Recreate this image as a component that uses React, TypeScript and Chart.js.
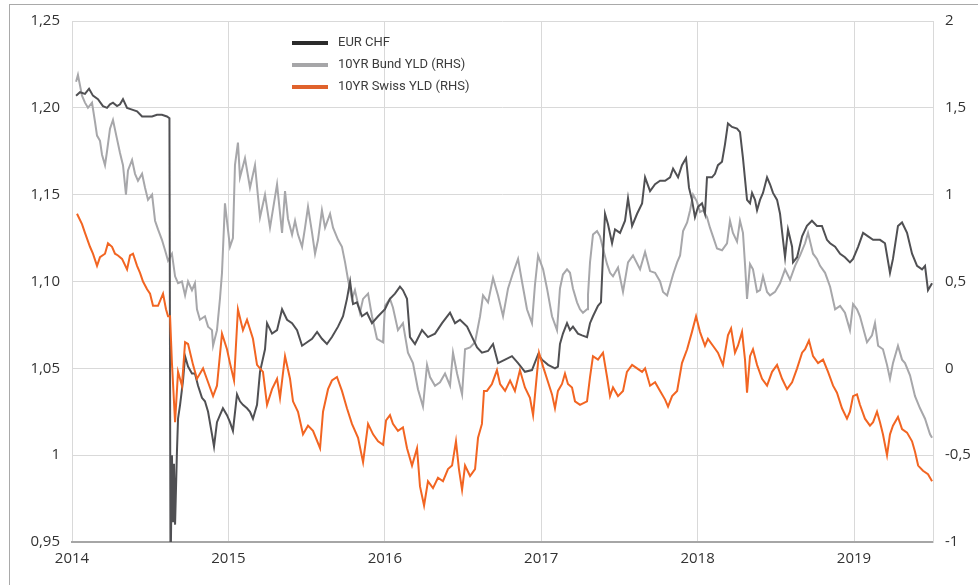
import React, { useEffect, useRef } from "react";
import { Chart, registerables } from "chart.js";

Chart.register(...registerables);

// ---- Data (decimal years on x) ----
const eurYears = [2014.026, 2014.051, 2014.083, 2014.109, 2014.134, 2014.166, 2014.198, 2014.224, 2014.243, 2014.262,
  2014.288, 2014.307, 2014.326, 2014.352, 2014.384, 2014.416, 2014.448, 2014.480, 2014.512, 2014.543,
  2014.575, 2014.607, 2014.623, 2014.630, 2014.639, 2014.646, 2014.652, 2014.659, 2014.671, 2014.678,
  2014.691, 2014.710, 2014.723, 2014.742, 2014.767, 2014.786, 2014.806, 2014.831, 2014.850, 2014.870,
  2014.895, 2014.908, 2014.927, 2014.946, 2014.965, 2014.991, 2015.010, 2015.029, 2015.055, 2015.074,
  2015.093, 2015.119, 2015.138, 2015.157, 2015.183, 2015.202, 2015.234, 2015.247, 2015.279, 2015.311,
  2015.343, 2015.375, 2015.407, 2015.439, 2015.471, 2015.503, 2015.535, 2015.567, 2015.598, 2015.630,
  2015.662, 2015.701, 2015.733, 2015.758, 2015.778, 2015.797, 2015.822, 2015.854, 2015.886, 2015.918,
  2015.957, 2016.001, 2016.033, 2016.065, 2016.097, 2016.116, 2016.142, 2016.161, 2016.193, 2016.238,
  2016.276, 2016.321, 2016.366, 2016.417, 2016.449, 2016.481, 2016.526, 2016.558, 2016.590, 2016.621,
  2016.660, 2016.692, 2016.724, 2016.769, 2016.813, 2016.852, 2016.896, 2016.941, 2016.980, 2017.005,
  2017.044, 2017.088, 2017.107, 2017.120, 2017.139, 2017.165, 2017.184, 2017.203, 2017.235, 2017.261,
  2017.293, 2017.312, 2017.331, 2017.363, 2017.382, 2017.395, 2017.408, 2017.427, 2017.453, 2017.472,
  2017.504, 2017.536, 2017.555, 2017.581, 2017.613, 2017.645, 2017.664, 2017.696, 2017.728, 2017.760,
  2017.792, 2017.824, 2017.843, 2017.875, 2017.900, 2017.926, 2017.945, 2017.964, 2017.983, 2018.003,
  2018.028, 2018.047, 2018.060, 2018.092, 2018.111, 2018.130, 2018.156, 2018.175, 2018.194, 2018.220,
  2018.252, 2018.271, 2018.290, 2018.316, 2018.335, 2018.348, 2018.367, 2018.380, 2018.399, 2018.418,
  2018.444, 2018.463, 2018.482, 2018.508, 2018.527, 2018.546, 2018.559, 2018.578, 2018.604, 2018.610,
  2018.636, 2018.668, 2018.699, 2018.731, 2018.763, 2018.795, 2018.827, 2018.847, 2018.879, 2018.911,
  2018.942, 2018.974, 2018.994, 2019.026, 2019.058, 2019.090, 2019.122, 2019.166, 2019.198, 2019.230,
  2019.249, 2019.281, 2019.307, 2019.339, 2019.371, 2019.403, 2019.435, 2019.454, 2019.473, 2019.499];

const eurValues = [1.207, 1.209, 1.208, 1.211, 1.207, 1.205, 1.201, 1.200, 1.202, 1.203,
  1.201, 1.202, 1.205, 1.200, 1.199, 1.198, 1.195, 1.195, 1.195, 1.196,
  1.196, 1.195, 1.194, 0.930, 1.000, 0.962, 0.995, 0.960, 1.002, 1.021,
  1.029, 1.043, 1.057, 1.051, 1.047, 1.047, 1.040, 1.033, 1.031, 1.025,
  1.012, 1.005, 1.019, 1.023, 1.027, 1.023, 1.019, 1.014, 1.035, 1.031,
  1.029, 1.027, 1.025, 1.021, 1.029, 1.048, 1.061, 1.076, 1.070, 1.072,
  1.084, 1.078, 1.076, 1.072, 1.063, 1.065, 1.067, 1.071, 1.067, 1.064,
  1.068, 1.074, 1.080, 1.090, 1.100, 1.087, 1.088, 1.080, 1.082, 1.076,
  1.080, 1.084, 1.090, 1.093, 1.097, 1.095, 1.090, 1.068, 1.064, 1.072,
  1.068, 1.070, 1.076, 1.082, 1.076, 1.078, 1.074, 1.068, 1.062, 1.059,
  1.060, 1.064, 1.053, 1.055, 1.057, 1.053, 1.048, 1.049, 1.058, 1.055,
  1.052, 1.050, 1.051, 1.064, 1.070, 1.076, 1.072, 1.074, 1.070, 1.069,
  1.068, 1.076, 1.080, 1.086, 1.088, 1.115, 1.139, 1.133, 1.122, 1.130,
  1.128, 1.135, 1.148, 1.132, 1.139, 1.145, 1.160, 1.152, 1.156, 1.158,
  1.158, 1.160, 1.165, 1.160, 1.167, 1.171, 1.154, 1.147, 1.137, 1.143,
  1.145, 1.139, 1.160, 1.160, 1.162, 1.167, 1.169, 1.179, 1.191, 1.189,
  1.188, 1.186, 1.171, 1.147, 1.145, 1.151, 1.147, 1.141, 1.147, 1.151,
  1.160, 1.156, 1.151, 1.147, 1.139, 1.124, 1.114, 1.130, 1.120, 1.111,
  1.114, 1.126, 1.132, 1.135, 1.132, 1.132, 1.124, 1.122, 1.120, 1.116,
  1.114, 1.111, 1.113, 1.120, 1.128, 1.126, 1.124, 1.124, 1.122, 1.105,
  1.113, 1.132, 1.134, 1.128, 1.116, 1.109, 1.107, 1.109, 1.095, 1.099];

const bundYears = [2014.026, 2014.038, 2014.064, 2014.083, 2014.102, 2014.128, 2014.147, 2014.160, 2014.179, 2014.192,
  2014.211, 2014.224, 2014.243, 2014.262, 2014.288, 2014.307, 2014.326, 2014.345, 2014.358, 2014.384,
  2014.403, 2014.422, 2014.448, 2014.467, 2014.486, 2014.512, 2014.531, 2014.550, 2014.575, 2014.595,
  2014.614, 2014.639, 2014.659, 2014.678, 2014.703, 2014.723, 2014.742, 2014.767, 2014.786, 2014.799,
  2014.818, 2014.850, 2014.870, 2014.895, 2014.902, 2014.927, 2014.946, 2014.959, 2014.978, 2014.997,
  2015.010, 2015.029, 2015.042, 2015.061, 2015.074, 2015.106, 2015.138, 2015.170, 2015.202, 2015.234,
  2015.266, 2015.311, 2015.343, 2015.362, 2015.381, 2015.407, 2015.426, 2015.445, 2015.471, 2015.490,
  2015.509, 2015.535, 2015.554, 2015.573, 2015.598, 2015.618, 2015.650, 2015.669, 2015.701, 2015.726,
  2015.746, 2015.765, 2015.790, 2015.809, 2015.841, 2015.861, 2015.893, 2015.918, 2015.950, 2015.989,
  2016.001, 2016.033, 2016.052, 2016.084, 2016.116, 2016.148, 2016.180, 2016.212, 2016.244, 2016.270,
  2016.289, 2016.321, 2016.353, 2016.385, 2016.417, 2016.436, 2016.462, 2016.494, 2016.513, 2016.545,
  2016.577, 2016.609, 2016.628, 2016.660, 2016.692, 2016.724, 2016.756, 2016.788, 2016.820, 2016.852,
  2016.877, 2016.909, 2016.941, 2016.960, 2016.980, 2017.012, 2017.037, 2017.069, 2017.101, 2017.120,
  2017.139, 2017.165, 2017.184, 2017.203, 2017.229, 2017.248, 2017.267, 2017.293, 2017.299, 2017.312,
  2017.331, 2017.357, 2017.376, 2017.395, 2017.421, 2017.440, 2017.459, 2017.491, 2017.523, 2017.555,
  2017.587, 2017.632, 2017.664, 2017.696, 2017.728, 2017.760, 2017.779, 2017.805, 2017.824, 2017.843,
  2017.869, 2017.888, 2017.907, 2017.933, 2017.952, 2017.971, 2017.996, 2018.015, 2018.035, 2018.060,
  2018.079, 2018.098, 2018.124, 2018.156, 2018.188, 2018.207, 2018.226, 2018.252, 2018.271, 2018.290,
  2018.303, 2018.316, 2018.335, 2018.354, 2018.380, 2018.399, 2018.418, 2018.444, 2018.463, 2018.495,
  2018.527, 2018.559, 2018.591, 2018.623, 2018.655, 2018.687, 2018.706, 2018.738, 2018.763, 2018.783,
  2018.815, 2018.847, 2018.879, 2018.911, 2018.942, 2018.974, 2018.994, 2019.019, 2019.038, 2019.083,
  2019.115, 2019.134, 2019.154, 2019.185, 2019.211, 2019.230, 2019.249, 2019.281, 2019.307, 2019.326,
  2019.358, 2019.390, 2019.422, 2019.454, 2019.486, 2019.499];

const bundValues = [1.65, 1.69, 1.57, 1.53, 1.50, 1.53, 1.42, 1.34, 1.31, 1.23,
  1.17, 1.25, 1.38, 1.43, 1.32, 1.24, 1.17, 1.00, 1.14, 1.20,
  1.12, 1.08, 1.12, 1.04, 0.97, 1.00, 0.85, 0.80, 0.74, 0.68,
  0.62, 0.66, 0.53, 0.49, 0.50, 0.42, 0.50, 0.45, 0.49, 0.34,
  0.28, 0.30, 0.24, 0.22, 0.13, 0.22, 0.40, 0.55, 0.95, 0.80,
  0.70, 0.75, 1.17, 1.30, 1.10, 1.21, 1.04, 1.17, 0.87, 1.00,
  0.81, 1.06, 0.78, 1.02, 0.86, 0.77, 0.85, 0.77, 0.70, 0.81,
  0.93, 0.78, 0.66, 0.74, 0.91, 0.81, 0.89, 0.81, 0.74, 0.70,
  0.61, 0.51, 0.40, 0.45, 0.32, 0.40, 0.43, 0.30, 0.17, 0.15,
  0.36, 0.40, 0.35, 0.22, 0.26, 0.09, 0.03, -0.12, -0.22, 0.02,
  -0.05, -0.10, -0.08, -0.03, -0.10, 0.09, -0.03, -0.15, 0.11, 0.12,
  0.15, 0.30, 0.42, 0.38, 0.52, 0.42, 0.30, 0.46, 0.55, 0.63,
  0.50, 0.34, 0.26, 0.48, 0.65, 0.57, 0.46, 0.30, 0.22, 0.46,
  0.54, 0.57, 0.55, 0.46, 0.38, 0.34, 0.32, 0.34, 0.42, 0.61,
  0.77, 0.79, 0.76, 0.69, 0.60, 0.55, 0.53, 0.58, 0.44, 0.61,
  0.65, 0.57, 0.67, 0.56, 0.55, 0.50, 0.44, 0.42, 0.48, 0.54,
  0.61, 0.65, 0.79, 0.84, 0.91, 1.00, 0.96, 0.90, 0.91, 0.87,
  0.81, 0.76, 0.69, 0.68, 0.72, 0.85, 0.78, 0.73, 0.85, 0.78,
  0.60, 0.40, 0.60, 0.57, 0.44, 0.45, 0.53, 0.44, 0.42, 0.44,
  0.49, 0.57, 0.51, 0.59, 0.65, 0.72, 0.78, 0.66, 0.63, 0.59,
  0.55, 0.47, 0.34, 0.36, 0.32, 0.22, 0.37, 0.34, 0.30, 0.15,
  0.19, 0.26, 0.13, 0.11, 0.02, -0.06, 0.03, 0.13, 0.05, 0.03,
  -0.04, -0.16, -0.23, -0.29, -0.38, -0.40];

const swissYears = [2014.032, 2014.064, 2014.083, 2014.115, 2014.134, 2014.160, 2014.179, 2014.211, 2014.230, 2014.256,
  2014.275, 2014.294, 2014.320, 2014.352, 2014.371, 2014.390, 2014.416, 2014.435, 2014.454, 2014.480,
  2014.499, 2014.518, 2014.550, 2014.582, 2014.601, 2014.614, 2014.627, 2014.639, 2014.659, 2014.678,
  2014.703, 2014.723, 2014.742, 2014.774, 2014.799, 2014.838, 2014.870, 2014.902, 2014.927, 2014.959,
  2014.991, 2015.010, 2015.036, 2015.061, 2015.093, 2015.119, 2015.157, 2015.183, 2015.221, 2015.247,
  2015.279, 2015.311, 2015.330, 2015.362, 2015.394, 2015.413, 2015.445, 2015.477, 2015.509, 2015.541,
  2015.586, 2015.605, 2015.637, 2015.662, 2015.694, 2015.726, 2015.758, 2015.790, 2015.829, 2015.861,
  2015.893, 2015.925, 2015.957, 2015.989, 2016.008, 2016.033, 2016.052, 2016.084, 2016.116, 2016.142,
  2016.174, 2016.206, 2016.225, 2016.251, 2016.276, 2016.308, 2016.340, 2016.372, 2016.404, 2016.430,
  2016.455, 2016.474, 2016.494, 2016.513, 2016.545, 2016.577, 2016.596, 2016.621, 2016.634, 2016.653,
  2016.685, 2016.717, 2016.737, 2016.769, 2016.801, 2016.832, 2016.864, 2016.896, 2016.928, 2016.948,
  2016.973, 2016.986, 2017.012, 2017.044, 2017.069, 2017.088, 2017.107, 2017.133, 2017.152, 2017.171,
  2017.197, 2017.216, 2017.248, 2017.293, 2017.312, 2017.331, 2017.363, 2017.395, 2017.421, 2017.440,
  2017.459, 2017.491, 2017.523, 2017.548, 2017.581, 2017.613, 2017.645, 2017.664, 2017.696, 2017.728,
  2017.760, 2017.792, 2017.811, 2017.837, 2017.869, 2017.900, 2017.933, 2017.964, 2017.990, 2018.015,
  2018.047, 2018.066, 2018.098, 2018.130, 2018.162, 2018.194, 2018.214, 2018.239, 2018.258, 2018.284,
  2018.303, 2018.316, 2018.335, 2018.354, 2018.380, 2018.412, 2018.444, 2018.476, 2018.508, 2018.540,
  2018.572, 2018.604, 2018.636, 2018.668, 2018.687, 2018.712, 2018.738, 2018.770, 2018.802, 2018.834,
  2018.866, 2018.891, 2018.923, 2018.955, 2018.974, 2018.994, 2019.019, 2019.038, 2019.070, 2019.102,
  2019.122, 2019.147, 2019.166, 2019.185, 2019.211, 2019.230, 2019.249, 2019.281, 2019.307, 2019.339,
  2019.371, 2019.390, 2019.410, 2019.441, 2019.473, 2019.499];

const swissValues = [0.89, 0.83, 0.78, 0.70, 0.66, 0.59, 0.64, 0.66, 0.72, 0.70,
  0.66, 0.65, 0.63, 0.57, 0.65, 0.66, 0.59, 0.55, 0.50, 0.455,
  0.43, 0.36, 0.36, 0.43, 0.34, 0.30, 0.30, 0.03, -0.31, -0.02,
  -0.10, 0.15, 0.14, 0.02, -0.06, 0.00, -0.08, -0.16, -0.10, 0.20,
  0.11, 0.03, -0.07, 0.34, 0.22, 0.28, 0.17, 0.02, -0.02, -0.21,
  -0.12, -0.06, -0.17, 0.07, -0.06, -0.19, -0.25, -0.38, -0.33, -0.36,
  -0.46, -0.25, -0.12, -0.07, -0.05, -0.13, -0.23, -0.32, -0.40, -0.54,
  -0.32, -0.38, -0.42, -0.44, -0.30, -0.27, -0.32, -0.36, -0.34, -0.46,
  -0.56, -0.46, -0.68, -0.79, -0.65, -0.69, -0.63, -0.65, -0.58, -0.56,
  -0.42, -0.58, -0.70, -0.56, -0.62, -0.58, -0.40, -0.32, -0.13, -0.13,
  -0.09, -0.01, -0.09, -0.13, -0.07, -0.13, -0.01, -0.11, -0.17, -0.27,
  -0.03, 0.09, 0.01, -0.08, -0.15, -0.23, -0.13, -0.09, -0.03, -0.09,
  -0.11, -0.19, -0.21, -0.19, -0.05, 0.07, 0.05, 0.09, -0.05, -0.16,
  -0.11, -0.16, -0.13, -0.02, 0.02, 0.00, -0.02, 0.00, -0.10, -0.08,
  -0.13, -0.18, -0.22, -0.16, -0.13, 0.03, 0.11, 0.21, 0.30, 0.21,
  0.13, 0.17, 0.13, 0.09, 0.02, 0.19, 0.23, 0.09, 0.13, 0.21,
  0.05, -0.14, 0.07, 0.11, 0.02, -0.06, -0.10, -0.02, 0.02, -0.06,
  -0.12, -0.08, 0.00, 0.09, 0.11, 0.16, 0.07, 0.03, 0.05, -0.02,
  -0.10, -0.14, -0.23, -0.29, -0.25, -0.16, -0.15, -0.21, -0.29, -0.33,
  -0.31, -0.25, -0.31, -0.38, -0.50, -0.38, -0.33, -0.28, -0.35, -0.37,
  -0.42, -0.48, -0.56, -0.59, -0.61, -0.65];

const seriesLabels = ["EUR CHF", "10YR Bund YLD (RHS)", "10YR Swiss YLD (RHS)"];
const lineColors = ["#505053", "#a7a7aa", "#f26522"];
const legendColors = ["#2b2b2b", "#a6a6a8", "#e0622c"];
const yearTicks = [2014, 2015, 2016, 2017, 2018, 2019];
const xEnd = 2019.505;

const toPoints = (xs: number[], ys: number[]) => xs.map((x, i) => ({ x, y: ys[i] }));

const legendPlugin = {
  id: "insideLegend",
  afterDraw(chart: any) {
    const { ctx, chartArea } = chart;
    ctx.save();
    seriesLabels.forEach((label, i) => {
      const y = chartArea.top + 22 + i * 22;
      const x0 = chartArea.left + 220;
      ctx.strokeStyle = legendColors[i];
      ctx.lineWidth = 4;
      ctx.beginPath();
      ctx.moveTo(x0, y);
      ctx.lineTo(x0 + 36, y);
      ctx.stroke();
      ctx.fillStyle = "#3c3c3c";
      ctx.font = "13px Roboto";
      ctx.textBaseline = "middle";
      ctx.textAlign = "left";
      ctx.fillText(label, x0 + 46, y);
    });
    ctx.restore();
  },
};

export default function App() {
  const ref = useRef<HTMLCanvasElement | null>(null);
  useEffect(() => {
    if (!ref.current) return;
    const tickFont = { family: "'Open Sans', sans-serif", size: 15 };
    const chart = new Chart(ref.current, {
      type: "line",
      data: {
        datasets: [
          {
            label: seriesLabels[2],
            data: toPoints(swissYears, swissValues),
            borderColor: lineColors[2],
            borderWidth: 2,
            pointRadius: 0,
            yAxisID: "y1",
            order: 0,
          },
          {
            label: seriesLabels[0],
            data: toPoints(eurYears, eurValues),
            borderColor: lineColors[0],
            borderWidth: 2,
            pointRadius: 0,
            yAxisID: "y",
            order: 1,
          },
          {
            label: seriesLabels[1],
            data: toPoints(bundYears, bundValues),
            borderColor: lineColors[1],
            borderWidth: 2,
            pointRadius: 0,
            yAxisID: "y1",
            order: 2,
          },
        ],
      },
      options: {
        animation: false,
        responsive: false,
        maintainAspectRatio: false,
        layout: { padding: { top: 17, left: 0, right: 0, bottom: 0 } },
        plugins: { legend: { display: false }, tooltip: { enabled: false } },
        scales: {
          x: {
            type: "linear",
            min: yearTicks[0],
            max: xEnd,
            afterFit: (s: any) => { s.height = 43; },
            afterBuildTicks: (s: any) => { s.ticks = yearTicks.map((v) => ({ value: v })); },
            ticks: {
              padding: 8,
              color: "#333",
              font: tickFont,
              maxRotation: 0,
              autoSkip: false,
              callback: (v: any) => String(Math.round(v)),
            },
            grid: { color: "#d9d9d9", lineWidth: 1, drawTicks: false },
            border: { color: "#a6a6a6", width: 2 },
          },
          y: {
            position: "left",
            min: 0.95,
            max: 1.25,
            afterFit: (s: any) => { s.width = 72; },
            ticks: {
              stepSize: 0.05,
              padding: 12,
              color: "#333",
              font: tickFont,
              callback: (v: any) => {
                const n = Math.round(v * 100) / 100;
                return n === 1 ? "1" : n.toFixed(2).replace(".", ",");
              },
            },
            grid: { color: "#d9d9d9", lineWidth: 1, drawTicks: false },
            border: { display: false },
          },
          y1: {
            position: "right",
            min: -1,
            max: 2,
            afterFit: (s: any) => { s.width = 45; },
            ticks: {
              stepSize: 0.5,
              padding: 12,
              color: "#333",
              font: tickFont,
              callback: (v: any) => String(Math.round(v * 10) / 10).replace(".", ","),
            },
            grid: { display: false, drawTicks: false },
            border: { display: true, color: "#d9d9d9", width: 1 },
          },
        },
      },
      plugins: [legendPlugin],
    });
    return () => chart.destroy();
  }, []);

  return (
    <div style={{ position: "absolute", left: 0, top: 0, width: 978, height: 585, background: "#fff", overflow: "hidden" }}>
      <div style={{ position: "absolute", left: 9, top: 4, width: 980, height: 600, borderTop: "1px solid #a9a9a9", borderLeft: "1px solid #a9a9a9" }} />
      <canvas ref={ref} width={978} height={585} style={{ position: "absolute", left: 0, top: 0, width: 978, height: 585 }} />
    </div>
  );
}
